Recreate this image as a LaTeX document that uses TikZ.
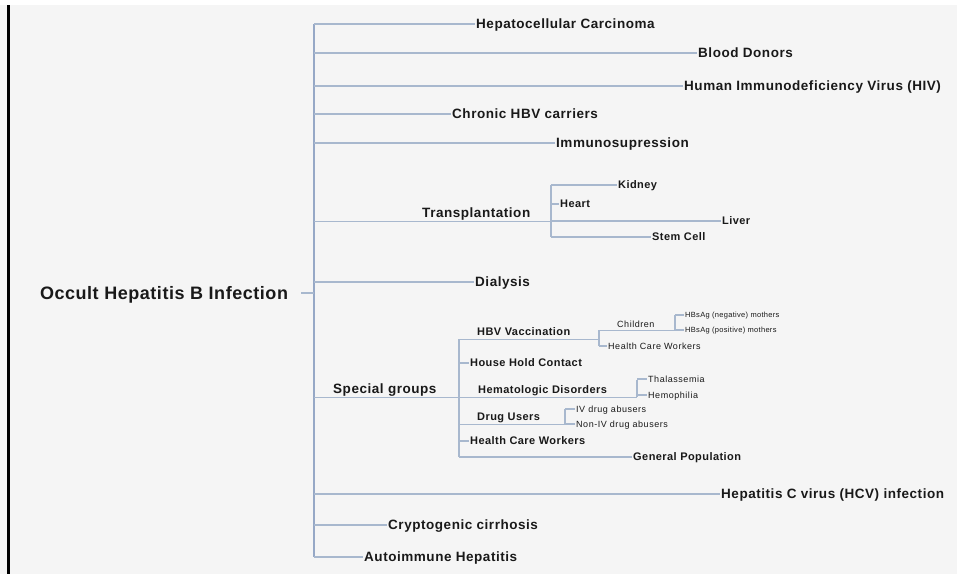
\documentclass[tikz,border=0pt]{standalone}
\usepackage{fontspec}
\setmainfont{Liberation Sans}
\newfontfamily\rootfont[LetterSpace=3]{Liberation Sans}
\newfontfamily\topicfont[LetterSpace=4]{Liberation Sans}
\newfontfamily\smallfont[LetterSpace=6]{Liberation Sans}
\newfontfamily\tinyfont[LetterSpace=4]{Liberation Sans}
\usetikzlibrary{positioning}
\definecolor{linkblue}{RGB}{168,184,206}
\definecolor{trunkblue}{RGB}{150,168,198}
\definecolor{bggray}{RGB}{245,245,245}
\definecolor{inkgray}{RGB}{25,25,25}

\begin{document}
\begin{tikzpicture}[
        x=1pt, y=-1pt,
        rootlabel/.style={anchor=east, inner sep=0pt, outer xsep=13pt, text=inkgray, text height=13pt, text depth=0pt, font={\rootfont\bfseries\fontsize{18}{20}\selectfont}},
        topic/.style={anchor=west, inner xsep=1pt, inner ysep=1pt, text=inkgray, text height=9.7pt, text depth=0pt, font={\topicfont\bfseries\fontsize{13.5}{15}\selectfont}},
        subtopic/.style={topic, text height=7.9pt, font={\topicfont\bfseries\fontsize{11}{13}\selectfont}},
        leaf/.style={topic, text height=6.4pt, font={\smallfont\fontsize{9}{10}\selectfont}},
        tinyleaf/.style={topic, text height=5.4pt, font={\tinyfont\fontsize{7.5}{9}\selectfont}},
        parent/.style={inner ysep=3.1pt},
        link/.style={draw=linkblue, line width=1.1pt},
        trunk/.style={draw=trunkblue, line width=1.6pt}
    ]
        % frame
        \useasboundingbox (0,0) rectangle (957,574);
        \fill[white] (0,0) rectangle (957,574);
        \fill[bggray] (0,5) rectangle (957,574);
        \fill[black] (7,5) rectangle (10,574);

        \node[rootlabel] (root) at (301,293) {Occult Hepatitis B Infection};
        \coordinate (ttop) at (314,24);
        \coordinate (tbot) at (314,557);
        \draw[trunk] (ttop) -- (tbot);
        \draw[link] (root.east) -- (root.east -| ttop);

        % first level
        \node[topic] (hcc) at (475,24) {Hepatocellular Carcinoma};
        \node[topic] (donors) at (697,53) {Blood Donors};
        \node[topic] (hiv) at (683,86) {Human Immunodeficiency Virus (HIV)};
        \node[topic] (chronic) at (451,114) {Chronic HBV carriers};
        \node[topic] (immuno) at (555,143) {Immunosupression};
        \node[topic, parent] (transpl) at (421,213) {Transplantation};
        \node[topic] (dialysis) at (474,282) {Dialysis};
        \node[topic, parent] (special) at (332,389) {Special groups};
        \node[topic] (hcv) at (720,494) {Hepatitis C virus (HCV) infection};
        \node[topic] (crypto) at (387,525) {Cryptogenic cirrhosis};
        \node[topic] (autoimm) at (363,557) {Autoimmune Hepatitis};

        \draw[link] (hcc.west -| ttop) -- (hcc.west);
        \draw[link] (donors.west -| ttop) -- (donors.west);
        \draw[link] (hiv.west -| ttop) -- (hiv.west);
        \draw[link] (chronic.west -| ttop) -- (chronic.west);
        \draw[link] (immuno.west -| ttop) -- (immuno.west);
        \draw[link] (dialysis.west -| ttop) -- (dialysis.west);
        \draw[link] (hcv.west -| ttop) -- (hcv.west);
        \draw[link] (crypto.west -| ttop) -- (crypto.west);
        \draw[link] (autoimm.west -| ttop) -- (autoimm.west);

        % transplantation
        \coordinate (trtop) at (551,185);
        \coordinate (trbot) at (551,237);
        \draw[link] (trtop) -- (trbot);
        \draw[link] (transpl.south -| ttop) -- (transpl.south -| trtop);
        \node[subtopic] (kidney) at (617,185) {Kidney};
        \node[subtopic] (heart) at (559,204) {Heart};
        \node[subtopic] (liver) at (721,221) {Liver};
        \node[subtopic] (stem) at (651,237) {Stem Cell};
        \draw[link] (kidney.west -| trtop) -- (kidney.west);
        \draw[link] (heart.west -| trtop) -- (heart.west);
        \draw[link] (liver.west -| trtop) -- (liver.west);
        \draw[link] (stem.west -| trtop) -- (stem.west);

        % special groups
        \coordinate (sgtop) at (459,339);
        \coordinate (sgbot) at (459,457);
        \draw[link] (sgtop) -- (sgbot);
        \draw[link] (special.south -| ttop) -- (special.south -| sgtop);
        \node[subtopic, parent, inner ysep=3pt] (hbv) at (476,332) {HBV Vaccination};
        \node[subtopic] (house) at (469,363) {House Hold Contact};
        \node[subtopic, parent, inner ysep=3pt] (hemato) at (477,390) {Hematologic Disorders};
        \node[subtopic, parent, inner ysep=3pt] (drugs) at (476,417) {Drug Users};
        \node[subtopic] (hcw) at (469,441) {Health Care Workers};
        \node[subtopic] (genpop) at (632,457) {General Population};
        \draw[link] (house.west -| sgtop) -- (house.west);
        \draw[link] (hcw.west -| sgtop) -- (hcw.west);
        \draw[link] (genpop.west -| sgtop) -- (genpop.west);

        % HBV vaccination
        \coordinate (hbtop) at (599,330);
        \coordinate (hbbot) at (599,346);
        \draw[link] (hbtop) -- (hbbot);
        \draw[link] (hbv.south -| sgtop) -- (hbv.south -| hbtop);
        \node[leaf, inner ysep=2.8pt] (children) at (616,324) {Children};
        \node[leaf] (hcwvac) at (607,346) {Health Care Workers};
        \draw[link] (hcwvac.west -| hbtop) -- (hcwvac.west);
        \coordinate (chtop) at (675,315);
        \coordinate (chbot) at (675,330);
        \draw[link] (chtop) -- (chbot);
        \draw[link] (children.south -| hbtop) -- (children.south -| chtop);
        \node[tinyleaf] (neg) at (684,315) {HBsAg (negative) mothers};
        \node[tinyleaf] (pos) at (684,330) {HBsAg (positive) mothers};
        \draw[link] (neg.west -| chtop) -- (neg.west);
        \draw[link] (pos.west -| chtop) -- (pos.west);

        % hematologic disorders
        \coordinate (hmtop) at (637,380);
        \coordinate (hmbot) at (637,397);
        \draw[link] (hmtop) -- (hmbot);
        \draw[link] (hemato.south -| sgtop) -- (hemato.south -| hmtop);
        \node[leaf] (thal) at (647,379) {Thalassemia};
        \node[leaf] (hemo) at (647,395) {Hemophilia};
        \draw[link] (thal.west -| hmtop) -- (thal.west);
        \draw[link] (hemo.west -| hmtop) -- (hemo.west);

        % drug users
        \coordinate (dutop) at (565,409);
        \coordinate (dubot) at (565,424);
        \draw[link] (dutop) -- (dubot);
        \draw[link] (drugs.south -| sgtop) -- (drugs.south -| dutop);
        \node[leaf] (iv) at (575,409) {IV drug abusers};
        \node[leaf] (noniv) at (575,424) {Non-IV drug abusers};
        \draw[link] (iv.west -| dutop) -- (iv.west);
        \draw[link] (noniv.west -| dutop) -- (noniv.west);
    \end{tikzpicture}
\end{document}
